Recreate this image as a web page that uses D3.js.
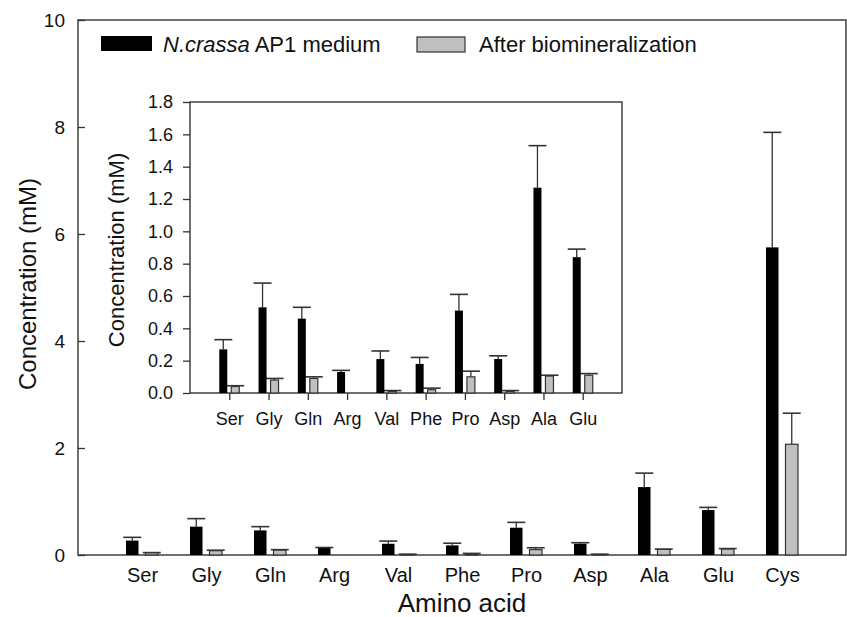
<!DOCTYPE html>
<html><head><meta charset="utf-8">
<script src="https://cdn.jsdelivr.net/npm/d3@7"></script>
<style>body{margin:0;background:#fff}svg{font-family:"Liberation Sans",Arial,sans-serif}</style>
</head><body>
<svg id="c" width="847" height="617"></svg>
<script>
const mainCategories = ["Ser","Gly","Gln","Arg","Val","Phe","Pro","Asp","Ala","Glu","Cys"];
const mediumValues = [0.27,0.53,0.46,0.13,0.21,0.18,0.51,0.21,1.27,0.84,5.75];
const mediumErrors = [0.06,0.15,0.07,0.01,0.05,0.04,0.10,0.02,0.26,0.05,2.15];
const afterValues  = [0.04,0.08,0.09,0.00,0.01,0.02,0.10,0.01,0.105,0.11,2.07];
const afterErrors  = [0.005,0.01,0.01,0.00,0.005,0.01,0.035,0.005,0.005,0.01,0.58];
const mainYTicks = [0,2,4,6,8,10];
const insetCategories = mainCategories.slice(0,10);
const insetYTicks = [0,0.2,0.4,0.6,0.8,1.0,1.2,1.4,1.6,1.8];
const seriesNames = ["N.crassa AP1 medium","After biomineralization"];

const svg = d3.select("#c");
const stroke = "#333";

function drawPanel(opt){
  const g = svg.append("g");
  const x = d3.scaleLinear().domain([0, opt.cats.length+1]).range([opt.left, opt.right]);
  const y = d3.scaleLinear().domain(opt.ydom).range([opt.bottom, opt.top]);
  const n = opt.cats.length;
  const idx = d3.range(n);
  g.append("rect").attr("x",opt.left).attr("y",opt.top).attr("width",opt.right-opt.left)
   .attr("height",opt.bottom-opt.top).attr("fill","none").attr("stroke",stroke).attr("stroke-width",1.4);
  const eb = (vals, errs, off) => {
    idx.forEach(i=>{
      if (vals[i] <= 0) return;
      const cx = x(i+1) + off;
      const yt = y(vals[i]+errs[i]);
      g.append("line").attr("x1",cx).attr("x2",cx).attr("y1",y(vals[i])).attr("y2",yt).attr("stroke",stroke).attr("stroke-width",1.3);
      g.append("line").attr("x1",cx-opt.cap/2).attr("x2",cx+opt.cap/2).attr("y1",yt).attr("y2",yt).attr("stroke",stroke).attr("stroke-width",1.6);
    });
  };
  eb(mediumValues, mediumErrors, -opt.gap/2 - opt.bw/2);
  eb(afterValues, afterErrors, opt.gap/2 + opt.bw/2);
  g.selectAll(".b1").data(idx).join("rect")
   .attr("x",i=>x(i+1)-opt.gap/2-opt.bw).attr("width",opt.bw)
   .attr("y",i=>y(mediumValues[i])).attr("height",i=>y(0)-y(mediumValues[i]))
   .attr("fill","#000");
  g.selectAll(".b2").data(idx.filter(i=>afterValues[i]>0)).join("rect")
   .attr("x",i=>x(i+1)+opt.gap/2).attr("width",opt.bw)
   .attr("y",i=>y(afterValues[i])).attr("height",i=>y(0)-y(afterValues[i]))
   .attr("fill","#c0c0c0").attr("stroke",stroke).attr("stroke-width",1.2);
  const ya = d3.axisLeft(y).tickValues(opt.yticks).tickFormat(opt.yfmt).tickSize(opt.ytickIn ? -7 : 7).tickPadding(opt.ypad);
  const yg = g.append("g").attr("transform",`translate(${opt.left},0)`).call(ya);
  yg.select(".domain").remove();
  yg.selectAll("line").attr("stroke",stroke).attr("stroke-width",1.3);
  yg.selectAll("text").attr("font-size",opt.yfs).attr("fill","#111").style("font-family","Liberation Sans, Arial, sans-serif");
  const xa = d3.axisBottom(x).tickValues(d3.range(1,n+1)).tickFormat(d=>opt.cats[d-1]).tickSize(opt.xtick).tickPadding(opt.xpad);
  const xg = g.append("g").attr("transform",`translate(0,${opt.bottom})`).call(xa);
  xg.select(".domain").remove();
  xg.selectAll("line").attr("stroke",stroke).attr("stroke-width",1.3);
  xg.selectAll("text").attr("font-size",opt.xfs).attr("fill","#111").style("font-family","Liberation Sans, Arial, sans-serif");
  g.append("text").attr("transform",`translate(${opt.ytx},${opt.tcy}) rotate(-90)`)
   .attr("text-anchor","middle").attr("font-size",opt.tfs).attr("fill","#111").text("Concentration (mM)");
  return g;
}

drawPanel({cats:mainCategories, left:78, right:846, top:20, bottom:555, ydom:[0,10],
  yticks:mainYTicks, yfmt:d3.format("d"), ytickIn:true, ypad:13, xtick:0, xpad:13,
  bw:12.5, gap:7, cap:18, xfs:20, yfs:19, tfs:24, ytx:36, tcy:284});

svg.append("rect").attr("x",190).attr("y",102).attr("width",432).attr("height",291).attr("fill","#fff");

drawPanel({cats:insetCategories, left:190, right:622, top:102, bottom:393, ydom:[0,1.8],
  yticks:insetYTicks, yfmt:d3.format(".1f"), ytickIn:false, ypad:10, xtick:7, xpad:12,
  bw:8, gap:4, cap:18, xfs:18, yfs:18, tfs:22, ytx:124, tcy:250});

const lg = svg.append("g");
lg.append("rect").attr("x",101).attr("y",36).attr("width",51).attr("height",15).attr("fill","#000");
const t1 = lg.append("text").attr("x",163).attr("y",52).attr("font-size",22).attr("fill","#111");
t1.append("tspan").attr("font-style","italic").text("N.crassa");
t1.append("tspan").text(" AP1 medium");
lg.append("rect").attr("x",417).attr("y",37).attr("width",48).attr("height",15).attr("fill","#c0c0c0").attr("stroke",stroke).attr("stroke-width",1.2);
lg.append("text").attr("x",479).attr("y",52).attr("font-size",22).attr("fill","#111").text(seriesNames[1]);

svg.append("text").attr("x",462).attr("y",612).attr("text-anchor","middle").attr("font-size",26).attr("fill","#111").text("Amino acid");
</script>
</body></html>
